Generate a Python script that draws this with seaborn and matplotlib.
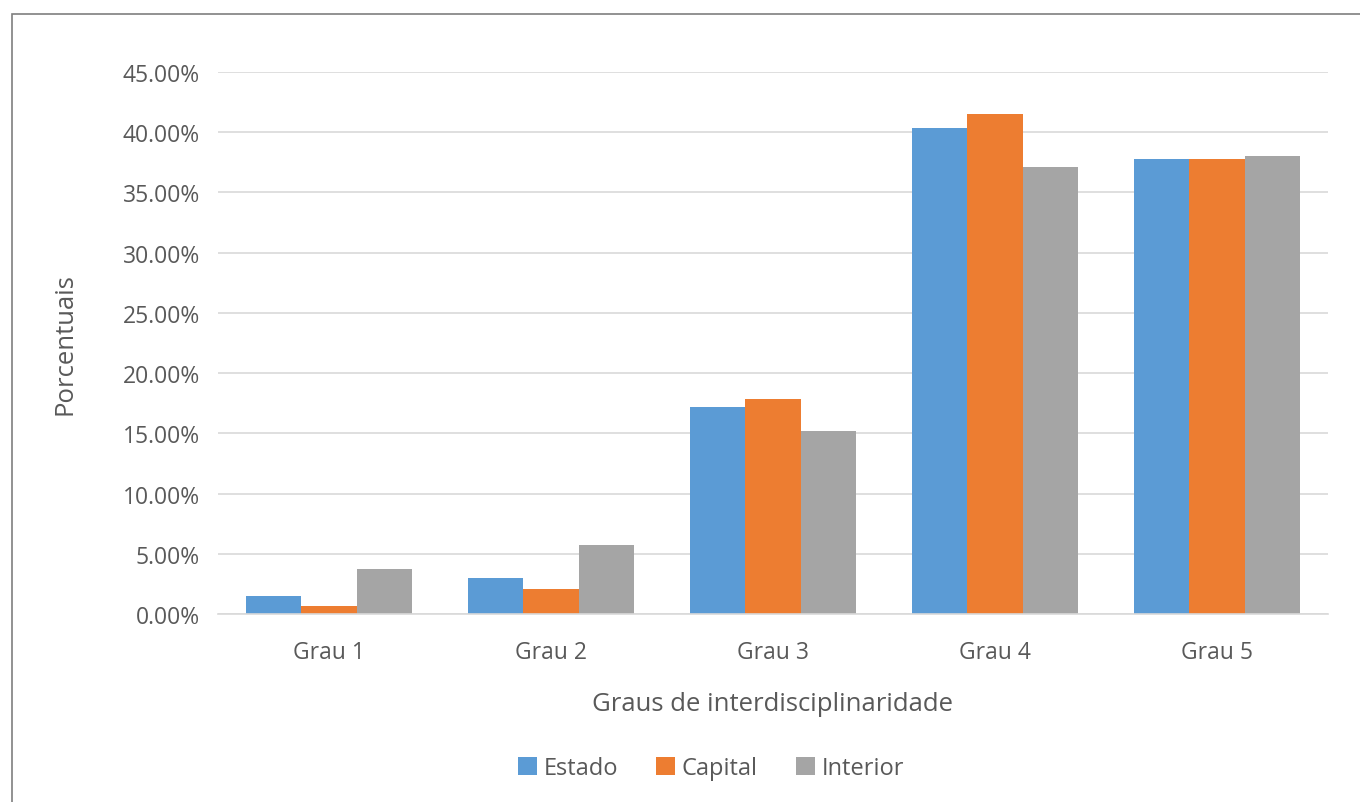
import matplotlib
matplotlib.use("Agg")
import matplotlib.pyplot as plt
import seaborn as sns
import pandas as pd
from matplotlib.patches import Rectangle
from matplotlib.ticker import FuncFormatter, MultipleLocator

categories = ["Grau 1", "Grau 2", "Grau 3", "Grau 4", "Grau 5"]
estado = [1.50, 2.99, 17.17, 40.36, 37.81]
capital = [0.64, 2.05, 17.86, 41.54, 37.79]
interior = [3.76, 5.73, 15.22, 37.12, 38.00]
series_names = ["Estado", "Capital", "Interior"]
colors = ["#5B9BD5", "#ED7D31", "#A5A5A5"]

rows = []
for name, vals in zip(series_names, [estado, capital, interior]):
    for c, v in zip(categories, vals):
        rows.append({"cat": c, "serie": name, "val": v})
df = pd.DataFrame(rows)

sns.set_style("white")
plt.rcParams['font.family'] = ['Open Sans', 'DejaVu Sans']

W, H = 1360, 803
fig = plt.figure(figsize=(W / 100, H / 100), dpi=100)
ax = fig.add_axes([218 / W, 1 - 615 / H, 1110 / W, (615 - 73) / H])

sns.barplot(data=df, x="cat", y="val", hue="serie", order=categories,
            hue_order=series_names, palette=colors, width=0.75,
            saturation=1, linewidth=0, ax=ax, legend=True)

ax.set_ylim(0, 45)
ax.set_xlim(-0.5, 4.5)
ax.yaxis.set_major_locator(MultipleLocator(5))
ax.yaxis.set_major_formatter(FuncFormatter(lambda v, p: f"{v:.2f}%"))
ax.grid(axis="y", color="#D9D9D9", linewidth=1.2)
ax.set_axisbelow(True)
for s in ["top", "right", "left"]:
    ax.spines[s].set_visible(False)
ax.spines["bottom"].set_color("#D9D9D9")
ax.spines["bottom"].set_linewidth(1.2)
ax.tick_params(axis="both", length=0, labelsize=16.5, labelcolor="#595959")
ax.tick_params(axis="x", pad=19)
ax.tick_params(axis="y", pad=13)
ax.set_xlabel("Graus de interdisciplinaridade", fontsize=18.5, color="#595959")
ax.set_ylabel("Porcentuais", fontsize=18.5, color="#595959")
ax.xaxis.set_label_coords(773 / W, 1 - 692 / H, transform=fig.transFigure)
ax.yaxis.set_label_coords(77 / W, 1 - 344 / H, transform=fig.transFigure)

leg = ax.legend(loc="center", bbox_to_anchor=(711 / W, 1 - 769 / H),
                bbox_transform=fig.transFigure, ncol=3, frameon=False,
                fontsize=17, handlelength=0.8, handleheight=0.8, handletextpad=0.3,
                columnspacing=1.6)
for t in leg.get_texts():
    t.set_color("#595959")

fig.patches.append(Rectangle((12 / W, -0.1), 1.2, 1.1 - 15 / H, transform=fig.transFigure,
                             fill=False, edgecolor="#7F7F7F", linewidth=1.2))
fig.savefig("out.png", dpi=100)
